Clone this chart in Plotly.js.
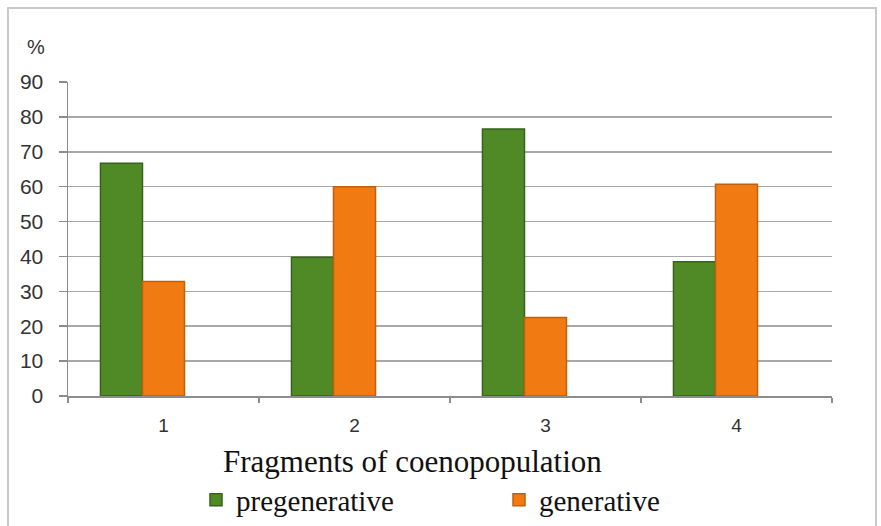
<!DOCTYPE html>
<html>
<head>
<meta charset="utf-8">
<script src="https://cdn.plot.ly/plotly-3.0.1.min.js"></script>
<style>
  html, body { margin: 0; padding: 0; background: #fff; }
  #wrap { position: relative; width: 881px; height: 526px; overflow: hidden; }
  #frame { position: absolute; left: 7px; top: 7px; width: 870px; height: 530px; border: 2px solid #c9c9c9; box-sizing: border-box; pointer-events: none; }
  #chart { position: absolute; left: 0; top: 0; width: 881px; height: 526px; }
</style>
</head>
<body>
<div id="wrap">
  <div id="chart"></div>
  <div id="frame"></div>
</div>
<script>
const categories = ['1', '2', '3', '4'];
const pregenerative = [66.7, 39.8, 76.5, 38.5];
const generative = [32.8, 60.0, 22.5, 60.7];
const seriesNames = ['pregenerative', 'generative'];
const yTicks = [0, 10, 20, 30, 40, 50, 60, 70, 80, 90];

const traces = [
  {
    type: 'bar', name: seriesNames[0], x: categories, y: pregenerative,
    width: 0.22, offset: -0.33,
    marker: { color: '#4f8a27', line: { color: '#36631a', width: 1.5 } },
    hoverinfo: 'skip'
  },
  {
    type: 'bar', name: seriesNames[1], x: categories, y: generative,
    width: 0.22, offset: -0.11,
    marker: { color: '#f27a12', line: { color: '#c0600c', width: 1.5 } },
    hoverinfo: 'skip'
  }
];

const layout = {
  width: 881, height: 526,
  margin: { l: 68, r: 49, t: 82, b: 130, autoexpand: false },
  paper_bgcolor: 'rgba(0,0,0,0)', plot_bgcolor: '#fff',
  showlegend: true,
  bargap: 0, bargroupgap: 0,
  xaxis: {
    type: 'category', tickson: 'boundaries', ticks: 'outside', ticklen: 5,
    tickcolor: '#8c8c8c', tickwidth: 1.5,
    showline: true, linecolor: '#8c8c8c', linewidth: 1.5,
    showgrid: false, ticklabelstandoff: 12,
    tickfont: { family: 'Liberation Sans, Arial, sans-serif', size: 19, color: '#333' }
  },
  yaxis: {
    range: [0, 90], tickvals: yTicks, ticks: 'outside', ticklen: 8,
    tickcolor: '#8c8c8c', tickwidth: 1.5,
    showline: true, linecolor: '#8c8c8c', linewidth: 1.5,
    gridcolor: '#a8a8a8', gridwidth: 1.5, zeroline: false,
    ticklabelstandoff: 11,
    tickfont: { family: 'Liberation Sans, Arial, sans-serif', size: 21, color: '#333' }
  },
  legend: {
    orientation: 'h', xref: 'container', yref: 'container',
    x: 196 / 881, xanchor: 'left', y: 1 - 500 / 526, yanchor: 'middle',
    entrywidth: 258, entrywidthmode: 'pixels', itemwidth: 30,
    font: { family: 'Liberation Serif, Times New Roman, serif', size: 29, color: '#111' },
    bgcolor: 'rgba(0,0,0,0)'
  },
  annotations: [
    { text: '%', xref: 'paper', yref: 'paper', x: (36 - 68) / 764, y: (396 - 47) / 314,
      xanchor: 'center', yanchor: 'middle', showarrow: false,
      font: { family: 'Liberation Sans, Arial, sans-serif', size: 20, color: '#333' } },
    { text: 'Fragments of coenopopulation', xref: 'paper', yref: 'paper',
      x: (412 - 68) / 764, y: (396 - 461) / 314, xanchor: 'center', yanchor: 'middle',
      showarrow: false,
      font: { family: 'Liberation Serif, Times New Roman, serif', size: 31, color: '#111' } }
  ]
};

Plotly.newPlot('chart', traces, layout, { displayModeBar: false, staticPlot: true });
</script>
</body>
</html>
